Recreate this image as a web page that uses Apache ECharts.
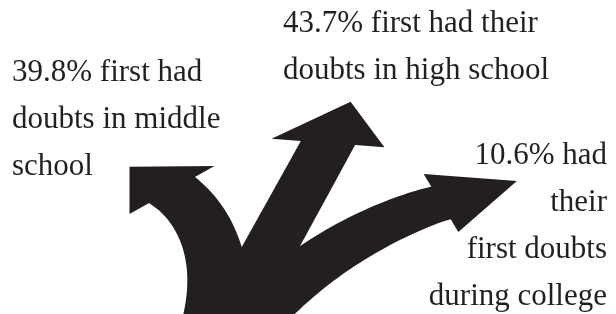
<!DOCTYPE html>
<html><head><meta charset="utf-8">
<script src="https://cdn.jsdelivr.net/npm/echarts@6/dist/echarts.min.js"></script>
<style>html,body{margin:0;padding:0;background:#fff;}#c{width:616px;height:314px;}</style>
</head><body><div id="c"></div>
<script>
// ---- DATA ----
const categories = ['middle school', 'high school', 'college'];
const values = [39.8, 43.7, 10.6];
const labelTemplates = [
  ['{v}% first had', 'doubts in middle', 'school'],
  ['{v}% first had their', 'doubts in high school'],
  ['{v}% had', 'their', 'first doubts', 'during college']
];

// ---- LAYOUT (not data) ----
const INK = '#231f20';
const FONT = '31px "Liberation Serif", serif';
const ARROWS = [
  { path: [[212, 335], [228, 270], [210, 218], [172, 190]], taper: 0.38, hl: 48, hw: 44.5, skew: -6.5, shift: -20 },
  { path: [[225, 330], [259, 268], [294, 205], [328, 143]], taper: 0.04, hl: 47, hw: 51.5, skew: 0, shift: 23.5 },
  { path: [[240, 335], [305, 255], [394, 216], [441, 203]], taper: 0.5, hl: 79, hw: 32.5, skew: -1, shift: 9 }
];
const LABELS = [
  { x: 12, base: [82, 129, 176], align: 'left' },
  { x: 283, base: [33, 80], align: 'left' },
  { x: 607, base: [165, 212, 259, 306], align: 'right' }
];

function bez(p, t) {
  const m = 1 - t, a = m * m * m, b = 3 * m * m * t, c = 3 * m * t * t, d = t * t * t;
  return [a * p[0][0] + b * p[1][0] + c * p[2][0] + d * p[3][0],
          a * p[0][1] + b * p[1][1] + c * p[2][1] + d * p[3][1]];
}
function bezD(p, t) {
  const m = 1 - t;
  const dx = 3 * (m * m * (p[1][0] - p[0][0]) + 2 * m * t * (p[2][0] - p[1][0]) + t * t * (p[3][0] - p[2][0]));
  const dy = 3 * (m * m * (p[1][1] - p[0][1]) + 2 * m * t * (p[2][1] - p[1][1]) + t * t * (p[3][1] - p[2][1]));
  const l = Math.hypot(dx, dy);
  return [dx / l, dy / l];
}

const chart = echarts.init(document.getElementById('c'), null, { renderer: 'canvas' });

function renderItem(params, api) {
  const i = params.dataIndex;
  const v = api.value(1);
  const A = ARROWS[i];
  const w = echarts.number.linearMap(v, [0, 50], [32, 52]);
  const p = A.path.map(q => api.coord(q));
  const N = 48, L = [], R = [];
  for (let k = 0; k <= N; k++) {
    const t = k / N;
    const P = bez(p, t), D = bezD(p, t), n = [-D[1], D[0]];
    const h = (w / 2) * (1 + A.taper * (1 - t));
    L.push([P[0] - h * n[0], P[1] - h * n[1]]);
    R.push([P[0] + h * n[0], P[1] + h * n[1]]);
  }
  const C = p[3], d = bezD(p, 1), n = [-d[1], d[0]];
  const f = (w / 2) / A.hw;
  const notchL = [C[0] - f * (A.hw * n[0] + A.shift * d[0]), C[1] - f * (A.hw * n[1] + A.shift * d[1])];
  const notchR = [C[0] + f * (A.hw * n[0] + A.shift * d[0]), C[1] + f * (A.hw * n[1] + A.shift * d[1])];
  const barbL = [C[0] - (A.hw * n[0] + A.shift * d[0]), C[1] - (A.hw * n[1] + A.shift * d[1])];
  const barbR = [C[0] + (A.hw * n[0] + A.shift * d[0]), C[1] + (A.hw * n[1] + A.shift * d[1])];
  const tip = [C[0] + A.hl * d[0] + A.skew * n[0], C[1] + A.hl * d[1] + A.skew * n[1]];
  L[N] = notchL; R[N] = notchR;
  const pts = L.concat([barbL, tip, barbR]).concat([notchR]).concat(R.slice(0, N).reverse());

  const lab = LABELS[i];
  const texts = labelTemplates[i].map((s, j) => ({
    type: 'text',
    x: lab.x, y: lab.base[j] - 0.305 * 31,
    style: {
      text: s.replace('{v}', values[i].toFixed(1)),
      fill: INK, font: FONT,
      textAlign: lab.align, align: lab.align,
      verticalAlign: 'middle', textVerticalAlign: 'middle'
    }
  }));
  return {
    type: 'group',
    children: [{ type: 'polygon', shape: { points: pts }, style: { fill: INK } }].concat(texts)
  };
}

chart.setOption({
  animation: false,
  backgroundColor: '#ffffff',
  grid: { left: 0, right: 0, top: 0, bottom: 0 },
  xAxis: { type: 'value', min: 0, max: 616, show: false },
  yAxis: { type: 'value', min: 0, max: 314, inverse: true, show: false },
  series: [{
    type: 'custom',
    coordinateSystem: 'cartesian2d',
    clip: false,
    renderItem: renderItem,
    data: values.map((v, i) => ({ name: categories[i], value: [i, v] }))
  }]
});
</script>
</body></html>
